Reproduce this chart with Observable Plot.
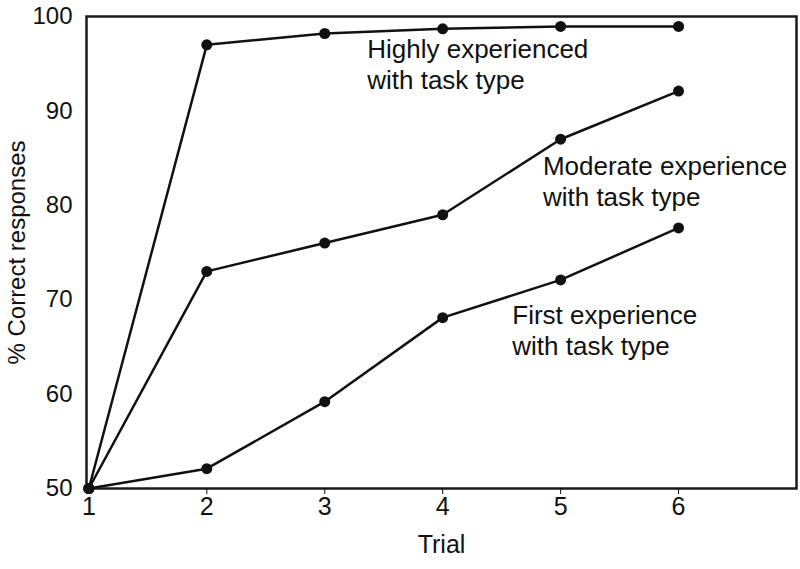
<!DOCTYPE html>
<html>
<head>
<meta charset="utf-8">
<script src="https://cdn.jsdelivr.net/npm/d3@7"></script>
<script src="https://cdn.jsdelivr.net/npm/@observablehq/plot@0.6"></script>
<style>
  html, body { margin: 0; padding: 0; background: #fff; }
  #chart { width: 800px; height: 569px; }
</style>
</head>
<body>
<div id="chart"></div>
<script>
const trials = [1, 2, 3, 4, 5, 6];
const highly = [50, 97, 98.2, 98.7, 98.95, 98.95];
const moderate = [50, 73, 76, 79, 87, 92.1];
const first = [50, 52.1, 59.2, 68.1, 72.1, 77.6];
const seriesNames = ["Highly experienced", "Moderate experience", "First experience"];
const xTicks = [1, 2, 3, 4, 5, 6];
const yTicks = [50, 60, 70, 80, 90, 100];

const annotations = [
  {x: 3.36, y: 95.0, text: "Highly experienced\nwith task type"},
  {x: 4.85, y: 82.6, text: "Moderate experience\nwith task type"},
  {x: 4.59, y: 66.8, text: "First experience\nwith task type"}
];

const seriesValues = [highly, moderate, first];
const rows = [];
seriesValues.forEach((vals, s) => {
  trials.forEach((t, i) => rows.push({series: seriesNames[s], trial: t, value: vals[i]}));
});

const chart = Plot.plot({
  width: 800,
  height: 569,
  marginLeft: 86,
  marginRight: 4,
  marginTop: 16,
  marginBottom: 81,
  style: {fontFamily: "'Liberation Sans', Arial, Helvetica, sans-serif", fontSize: "26px", color: "#111", background: "#fff"},
  x: {domain: [0.98, 7]},
  y: {domain: [50, 100]},
  marks: [
    Plot.frame({stroke: "#1a1a1a", strokeWidth: 2.5}),
    Plot.axisX({ticks: xTicks, tickSize: 6, tickPadding: 3, fontSize: 25, tickFormat: d3.format("d"),
      label: "Trial", labelAnchor: "center", labelArrow: "none", labelOffset: 64}),
    Plot.axisY({ticks: yTicks, tickSize: 0, tickPadding: 14, fontSize: 24, tickFormat: d3.format("d"),
      label: "% Correct responses", labelAnchor: "center", labelArrow: "none", labelOffset: 79}),
    Plot.line(rows, {x: "trial", y: "value", z: "series", stroke: "#111", strokeWidth: 2.5}),
    Plot.dot(rows, {x: "trial", y: "value", r: 5.5, fill: "#111", stroke: "none"}),
    Plot.text(annotations, {x: "x", y: "y", text: "text", textAnchor: "start", lineAnchor: "middle",
      lineHeight: 1.2, fontSize: 26, fill: "#111"})
  ]
});
document.getElementById("chart").appendChild(chart);
</script>
</body>
</html>
